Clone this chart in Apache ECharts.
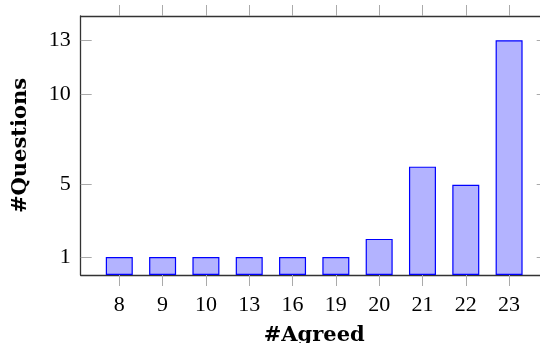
<!DOCTYPE html>
<html>
<head>
<meta charset="utf-8">
<script src="https://cdn.jsdelivr.net/npm/echarts@6/dist/echarts.min.js"></script>
<style>html,body{margin:0;padding:0;background:#fff;}#c{width:540px;height:343px;}</style>
</head>
<body>
<div id="c"></div>
<script>
const categories = ['8','9','10','13','16','19','20','21','22','23'];
const questions = [1,1,1,1,1,1,2,6,5,13];
const yTicks = [1,5,10,13];
const xTitle = '#Agreed';
const yTitle = '#Questions';

const idx = categories.map((c,i)=>i);
const seriesData = questions.map((v,i)=>[i,v]);
const lab = {fontFamily:'"Liberation Serif", serif', fontSize:22, color:'#000'};
const nameFont = {fontFamily:'"DejaVu Serif", serif', fontWeight:'bold', fontSize:21, color:'#000'};
const tickStyle = {color:'#aaa', width:1};
const lineStyle = {color:'#333', width:1.3};

const chart = echarts.init(document.getElementById('c'), null, {renderer:'canvas'});
chart.setOption({
  animation:false,
  grid:{left:80.7, top:16, height:259, width:467, containLabel:false, outerBoundsMode:'none'},
  xAxis:[{
    type:'value', position:'bottom', min:-0.891, max:9.891,
    axisLine:{show:true, onZero:false, lineStyle:lineStyle},
    axisTick:{show:true, inside:false, length:11, customValues:idx, lineStyle:tickStyle},
    axisLabel:{show:true, customValues:idx, margin:19, formatter:v=>categories[Math.round(v)], ...lab},
    splitLine:{show:false},
    name:xTitle, nameLocation:'middle', nameGap:50, nameTextStyle:nameFont
  },{
    type:'value', position:'top', min:-0.891, max:9.891,
    axisLine:{show:true, onZero:false, lineStyle:lineStyle},
    axisTick:{show:true, inside:false, length:11, customValues:idx, lineStyle:tickStyle},
    axisLabel:{show:false}, splitLine:{show:false}
  }],
  yAxis:[{
    type:'value', position:'left', min:0, max:14.34,
    axisLine:{show:true, onZero:false, lineStyle:lineStyle},
    axisTick:{show:true, inside:true, length:11, customValues:yTicks, lineStyle:tickStyle},
    axisLabel:{show:true, customValues:yTicks, margin:10, ...lab},
    splitLine:{show:false},
    name:yTitle, nameLocation:'middle', nameGap:50, nameRotate:90, nameTextStyle:nameFont
  },{
    type:'value', position:'right', min:0, max:14.34,
    axisLine:{show:true, onZero:false, lineStyle:lineStyle},
    axisTick:{show:true, inside:true, length:11, customValues:yTicks, lineStyle:tickStyle},
    axisLabel:{show:false}, splitLine:{show:false}
  }],
  series:[{
    type:'bar', xAxisIndex:0, yAxisIndex:0, data:seriesData, barWidth:27,
    itemStyle:{color:'#b3b3ff', borderColor:'#0000ff', borderWidth:1.2}
  }]
});
</script>
</body>
</html>
